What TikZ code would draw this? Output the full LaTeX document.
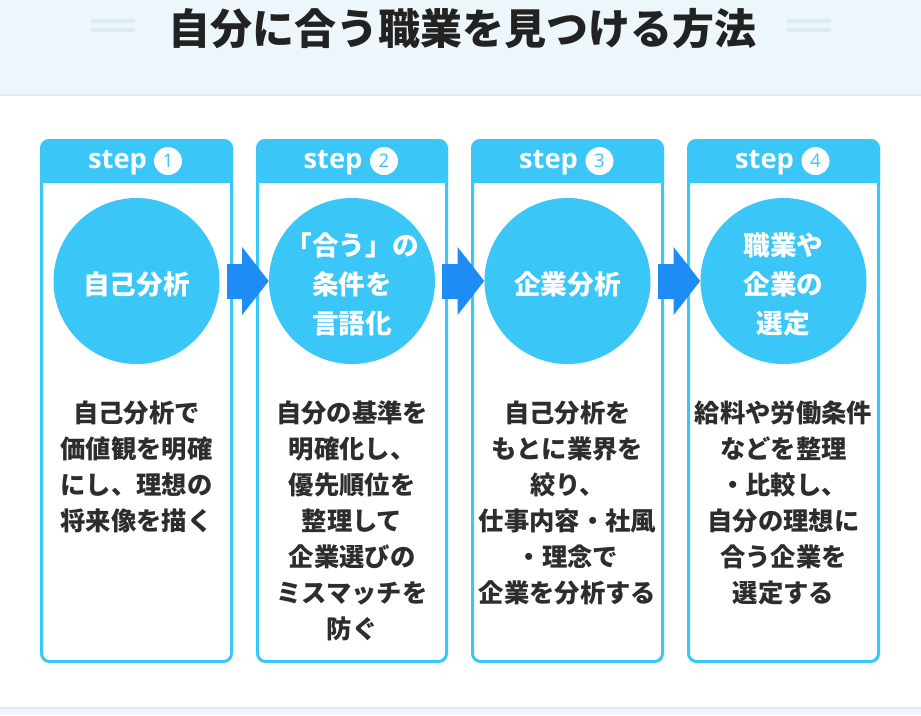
\documentclass[tikz,border=0pt]{standalone}
\usepackage{fontspec}
\newfontfamily\jpfont{Noto Sans CJK JP}
\newfontfamily\stepfont{Open Sans}
\usetikzlibrary{arrows.meta, positioning}
\definecolor{stepcyan}{RGB}{58,198,247}
\definecolor{flowblue}{RGB}{30,140,245}
\definecolor{bandbg}{RGB}{237,247,251}
\definecolor{bandrule}{RGB}{220,236,240}
\definecolor{titleink}{RGB}{34,34,34}
\definecolor{bodyink}{RGB}{45,45,45}

\begin{document}
\begin{tikzpicture}[x=0.75pt, y=-0.75pt, node distance=27pt,
    stepframe/.style={draw=stepcyan, line width=2.25pt, fill=white, rounded corners=6pt},
    stephead/.style={fill=stepcyan, rounded corners=7pt},
    steplabel/.style={text=white, inner sep=0pt, font=\stepfont\bfseries\fontsize{20.5}{20.5}\selectfont},
    stepnum/.style={circle, fill=white, text=stepcyan, minimum size=21pt, inner sep=0pt, font=\stepfont\fontsize{14}{14}\selectfont},
    topic/.style={circle, fill=stepcyan, minimum size=124.5pt, inner sep=0pt},
    topictext/.style={inner sep=0pt, text=white, align=center, font=\jpfont\bfseries\fontsize{20}{29}\selectfont},
    detail/.style={inner sep=0pt, align=center, text=bodyink, font=\jpfont\bfseries\fontsize{19}{27}\selectfont},
    flow/.style={flowblue, line width=26.25pt, -{Triangle[length=20pt, width=50pt]}}]
    \useasboundingbox (0,0) rectangle (921,715);

    % bands
    \fill[bandbg] (0,0) rectangle (921,95);
    \draw[bandrule, line width=1.5pt] (0,95) -- (921,95);
    \fill[bandbg] (0,708) rectangle (921,715);
    \draw[bandrule, line width=1.5pt] (0,708) -- (921,708);

    \node[font=\jpfont\bfseries\fontsize{31.5}{31.5}\selectfont, text=titleink] (title) at (462,29) {自分に合う職業を見つける方法};
    \draw[bandrule, line width=3.4pt] (91,21) -- (135,21) (91,30) -- (135,30) (787,21) -- (831,21) (787,30) -- (831,30);

    % step 1
    \filldraw[stepframe] (41.5,140.5) rectangle (231.5,661.5);
    \fill[stephead] (40,183) -- (40,139) -- (233,139) -- (233,183);
    \node[steplabel] (s1) at (117.5,163) {step};
    \node[stepnum] (n1) at (168,161) {1};
    \node[topic] (c1) at (136.5,281) {};
    \node[topictext] (t1) at ([yshift=-2.5pt]c1) {自己分析};
    \node[detail, below=of c1] (d1) {自己分析で\\価値観を明確\\にし、理想の\\将来像を描く};

    % step 2
    \filldraw[stepframe] (257.5,140.5) rectangle (446.5,661.5);
    \fill[stephead] (256,183) -- (256,139) -- (448,139) -- (448,183);
    \node[steplabel] (s2) at (333,163) {step};
    \node[stepnum] (n2) at (384,161) {2};
    \node[topic] (c2) at (352,281) {};
    \node[topictext] (t2) at ([yshift=-2.5pt]c2) {「合う」の\\条件を\\言語化};
    \node[detail, below=of c2] (d2) {自分の基準を\\明確化し、\\優先順位を\\整理して\\企業選びの\\ミスマッチを\\防ぐ};

    % step 3
    \filldraw[stepframe] (472.5,140.5) rectangle (662.5,661.5);
    \fill[stephead] (471,183) -- (471,139) -- (664,139) -- (664,183);
    \node[steplabel] (s3) at (548.5,163) {step};
    \node[stepnum] (n3) at (599.5,161) {3};
    \node[topic] (c3) at (567.5,281) {};
    \node[topictext] (t3) at ([yshift=-2.5pt]c3) {企業分析};
    \node[detail, below=of c3] (d3) {自己分析を\\もとに業界を\\絞り、\\仕事内容・社風\\・理念で\\企業を分析する};

    % step 4
    \filldraw[stepframe] (688.5,140.5) rectangle (878.5,661.5);
    \fill[stephead] (687,183) -- (687,139) -- (880,139) -- (880,183);
    \node[steplabel] (s4) at (764.5,163) {step};
    \node[stepnum] (n4) at (815.5,161) {4};
    \node[topic] (c4) at (783.5,281) {};
    \node[topictext] (t4) at ([yshift=-2.5pt]c4) {職業や\\企業の\\選定};
    \node[detail, below=of c4] (d4) {給料や労働条件\\などを整理\\・比較し、\\自分の理想に\\合う企業を\\選定する};

    \draw[flow] ([xshift=5.25pt]c1.east) -- (c2.west);
    \draw[flow] ([xshift=5.25pt]c2.east) -- (c3.west);
    \draw[flow] ([xshift=5.25pt]c3.east) -- (c4.west);
\end{tikzpicture}
\end{document}
